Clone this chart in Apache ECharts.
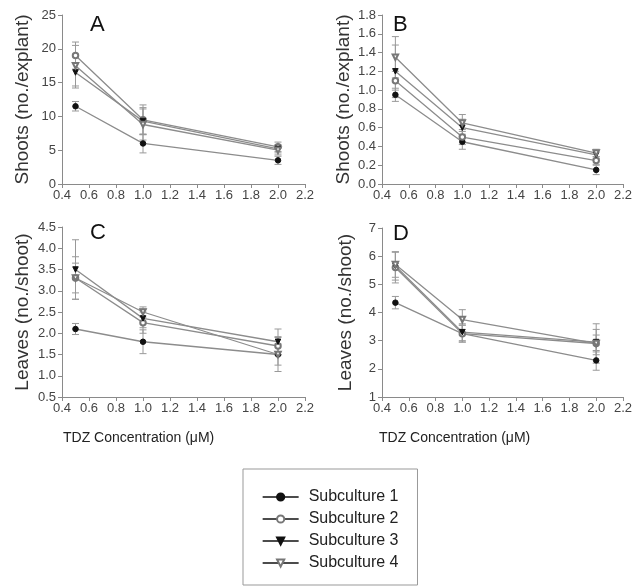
<!DOCTYPE html>
<html><head><meta charset="utf-8">
<script src="https://cdn.jsdelivr.net/npm/echarts@6/dist/echarts.min.js"></script>
<style>html,body{margin:0;padding:0;background:#fff}#c{width:635px;height:588px}</style>
</head><body><div id="c"></div>
<script>
// TDZ concentrations (µM)
const xVals = [0.5, 1.0, 2.0];
const xTicks = [0.4, 0.6, 0.8, 1.0, 1.2, 1.4, 1.6, 1.8, 2.0, 2.2];
const seriesNames = ['Subculture 1', 'Subculture 2', 'Subculture 3', 'Subculture 4'];

// Panel A: Shoots (no./explant)
const aS1 = [11.5, 6.0, 3.5];   const aS1Err = [0.7, 1.4, 0.6];
const aS2 = [19.0, 9.5, 5.5];   const aS2Err = [2.0, 2.2, 0.7];
const aS3 = [16.5, 9.3, 5.2];   const aS3Err = [2.3, 2.0, 0.6];
const aS4 = [17.5, 8.8, 5.0];   const aS4Err = [3.0, 2.3, 0.7];

// Panel B: Shoots (no./explant)
const bS1 = [0.95, 0.45, 0.15]; const bS1Err = [0.07, 0.08, 0.05];
const bS2 = [1.10, 0.50, 0.25]; const bS2Err = [0.10, 0.08, 0.04];
const bS3 = [1.20, 0.60, 0.31]; const bS3Err = [0.28, 0.09, 0.04];
const bS4 = [1.35, 0.65, 0.33]; const bS4Err = [0.22, 0.09, 0.04];

// Panel C: Leaves (no./shoot)
const cS1 = [2.10, 1.80, 1.50]; const cS1Err = [0.13, 0.28, 0.25];
const cS2 = [3.30, 2.25, 1.70]; const cS2Err = [0.35, 0.25, 0.22];
const cS3 = [3.50, 2.35, 1.80]; const cS3Err = [0.70, 0.22, 0.30];
const cS4 = [3.30, 2.50, 1.50]; const cS4Err = [0.50, 0.12, 0.40];

// Panel D: Leaves (no./shoot)
const dS1 = [4.35, 3.25, 2.30]; const dS1Err = [0.22, 0.30, 0.35];
const dS2 = [5.60, 3.25, 2.90]; const dS2Err = [0.55, 0.30, 0.30];
const dS3 = [5.65, 3.30, 2.95]; const dS3Err = [0.50, 0.30, 0.45];
const dS4 = [5.70, 3.75, 2.90]; const dS4Err = [0.45, 0.35, 0.70];

const yA = {min: 0, max: 25, interval: 5, dec: 0, name: 'Shoots (no./explant)'};
const yB = {min: 0, max: 1.8, interval: 0.2, dec: 1, name: 'Shoots (no./explant)'};
const yC = {min: 0.5, max: 4.5, interval: 0.5, dec: 1, name: 'Leaves (no./shoot)'};
const yD = {min: 1, max: 7, interval: 1, dec: 0, name: 'Leaves (no./shoot)'};

const panels = [
  {means: [aS1, aS2, aS3, aS4], errs: [aS1Err, aS2Err, aS3Err, aS4Err], y: yA, letter: 'A'},
  {means: [bS1, bS2, bS3, bS4], errs: [bS1Err, bS2Err, bS3Err, bS4Err], y: yB, letter: 'B'},
  {means: [cS1, cS2, cS3, cS4], errs: [cS1Err, cS2Err, cS3Err, cS4Err], y: yC, letter: 'C'},
  {means: [dS1, dS2, dS3, dS4], errs: [dS1Err, dS2Err, dS3Err, dS4Err], y: yD, letter: 'D'}
];

const grids = [
  {left: 62, top: 15, width: 243, height: 169},
  {left: 382, top: 15, width: 243, height: 169},
  {left: 62, top: 227, width: 243, height: 170},
  {left: 382, top: 228, width: 243, height: 169}
];
const letterPos = [[90, 14], [393, 14], [90, 222], [393, 223]];
const nameGaps = [30, 29, 30, 27];

const FONT = 'Liberation Sans, Arial, sans-serif';
const LINE = '#8c8c8c';
const AX = '#8a8a8a';
const LBL = '#444';
const symbols = [
  {symbol: 'circle', rot: 0, color: '#111', border: '#111'},
  {symbol: 'emptyCircle', rot: 0, color: '#777', border: '#777'},
  {symbol: 'triangle', rot: 180, color: '#111', border: '#111'},
  {symbol: 'emptyTriangle', rot: 180, color: '#777', border: '#777'}
];

function errRender(params, api) {
  const x = api.value(0), lo = api.value(1), hi = api.value(2);
  const p1 = api.coord([x, lo]), p2 = api.coord([x, hi]);
  const w = 3.5;
  const st = {stroke: '#999', lineWidth: 1};
  return {type: 'group', children: [
    {type: 'line', shape: {x1: p1[0], y1: p1[1], x2: p2[0], y2: p2[1]}, style: st},
    {type: 'line', shape: {x1: p1[0] - w, y1: p1[1], x2: p1[0] + w, y2: p1[1]}, style: st},
    {type: 'line', shape: {x1: p2[0] - w, y1: p2[1], x2: p2[0] + w, y2: p2[1]}, style: st}
  ]};
}

const xAxes = [], yAxes = [], series = [], titles = [];
panels.forEach((p, i) => {
  xAxes.push({
    type: 'value', gridIndex: i, min: 0.4, max: 2.2, interval: 0.2,
    axisLine: {show: true, onZero: false, lineStyle: {color: AX, width: 1}},
    axisTick: {show: true, length: 4, lineStyle: {color: AX}},
    axisLabel: {color: LBL, fontSize: 13, fontFamily: FONT, margin: 5,
      formatter: v => xTicks.includes(Math.round(v * 10) / 10) ? v.toFixed(1) : ''},
    splitLine: {show: false}
  });
  yAxes.push({
    type: 'value', gridIndex: i, min: p.y.min, max: p.y.max, interval: p.y.interval,
    name: p.y.name, nameLocation: 'middle', nameGap: nameGaps[i],
    nameTextStyle: {color: '#333', fontSize: 19, fontFamily: FONT},
    axisLine: {show: true, onZero: false, lineStyle: {color: AX, width: 1}},
    axisTick: {show: true, length: 4, lineStyle: {color: AX}},
    axisLabel: {color: LBL, fontSize: 13, fontFamily: FONT, margin: 6,
      formatter: v => v.toFixed(p.y.dec)},
    splitLine: {show: false}
  });
  titles.push({text: p.letter, left: letterPos[i][0], top: letterPos[i][1], padding: 0,
    textStyle: {fontSize: 22, fontWeight: 'normal', color: '#111', fontFamily: FONT}});
  p.means.forEach((m, k) => {
    series.push({
      type: 'custom', xAxisIndex: i, yAxisIndex: i, renderItem: errRender, z: 1, silent: true,
      data: xVals.map((x, j) => [x, m[j] - p.errs[k][j], m[j] + p.errs[k][j]])
    });
  });
  p.means.forEach((m, k) => {
    const s = symbols[k];
    series.push({
      name: seriesNames[k], type: 'line', xAxisIndex: i, yAxisIndex: i,
      data: xVals.map((x, j) => [x, m[j]]),
      symbol: s.symbol, symbolSize: 5.5, symbolRotate: s.rot, z: 3,
      lineStyle: {color: LINE, width: 1.3},
      itemStyle: {color: s.color, borderColor: s.border, borderWidth: 1},
      animation: false
    });
  });
});

titles.push({text: 'TDZ Concentration (μM)', left: 63, top: 431, padding: 0,
  textStyle: {fontSize: 14, fontWeight: 'normal', color: '#222', fontFamily: FONT}});
titles.push({text: 'TDZ Concentration (μM)', left: 379, top: 431, padding: 0,
  textStyle: {fontSize: 14, fontWeight: 'normal', color: '#222', fontFamily: FONT}});

const chart = echarts.init(document.getElementById('c'), null, {renderer: 'canvas'});
chart.setOption({
  backgroundColor: '#fff',
  animation: false,
  title: titles,
  grid: grids,
  xAxis: xAxes,
  yAxis: yAxes,
  legend: {
    data: seriesNames, orient: 'vertical', left: 243, top: 469,
    padding: [20, 19, 14, 19], itemGap: 6, itemWidth: 36, itemHeight: 9,
    borderColor: '#999', borderWidth: 1,
    textStyle: {fontSize: 16, lineHeight: 16, color: '#222', fontFamily: FONT, padding: [0, 0, 0, 5]},
    lineStyle: {color: '#111', width: 1.3},
    selectedMode: false
  },
  series: series
});
</script></body></html>
